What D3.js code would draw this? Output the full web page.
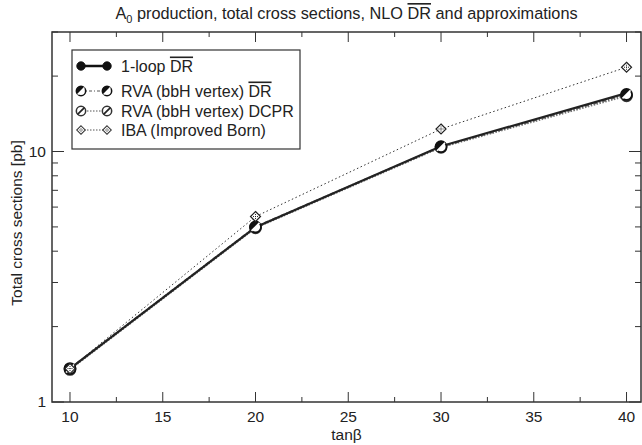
<!DOCTYPE html>
<html>
<head>
<meta charset="utf-8">
<script src="https://cdn.jsdelivr.net/npm/d3@7"></script>
<style>
  body { margin: 0; background: #fff; }
  svg { display: block; font-family: "Liberation Sans", Arial, sans-serif; }
</style>
</head>
<body>
<svg id="chart" width="642" height="445"></svg>
<script>
// data
var tanBeta = [10, 20, 30, 40];
var loop1 = [1.36, 4.99, 10.5, 17.1];
var rvaDR = [1.36, 5.0, 10.45, 16.9];
var rvaDCPR = [1.35, 4.96, 10.4, 16.7];
var iba = [1.36, 5.5, 12.3, 21.7];
var xTicks = [10, 15, 20, 25, 30, 35, 40];
var yTicks = [1, 10];

var margin = { top: 32, right: 1, bottom: 43, left: 52 };
var width = 642 - margin.left - margin.right;
var height = 445 - margin.top - margin.bottom;
var fs = "15.5px";

var svg = d3.select("#chart");
var g = svg.append("g")
    .attr("transform", "translate(" + margin.left + "," + margin.top + ")");

var x = d3.scaleLinear().domain([9.03, 40.78]).range([0, width]);
var y = d3.scaleLog().domain([1, 30]).range([height, 0]);

var axisColor = "#333";

// frame
g.append("rect")
    .attr("width", width)
    .attr("height", height)
    .attr("fill", "none")
    .attr("stroke", axisColor)
    .attr("stroke-width", 1.5);

// x ticks (bottom + top)
var xMinor = d3.range(12.5, 40, 5);
function xTickMarks(vals, len) {
    vals.forEach(function(v) {
        g.append("line").attr("x1", x(v)).attr("x2", x(v))
            .attr("y1", height).attr("y2", height - len)
            .attr("stroke", axisColor).attr("stroke-width", 1);
        g.append("line").attr("x1", x(v)).attr("x2", x(v))
            .attr("y1", 0).attr("y2", len)
            .attr("stroke", axisColor).attr("stroke-width", 1);
    });
}
xTickMarks(xTicks, 10);
xTickMarks(xMinor, 5);

g.selectAll(".xlab")
    .data(xTicks)
    .enter().append("text")
    .attr("x", function(d) { return x(d); })
    .attr("y", height + 20)
    .attr("text-anchor", "middle")
    .attr("font-size", fs)
    .attr("fill", "#222")
    .text(function(d) { return d; });

// y ticks (left + right)
var yMinor = [2, 3, 4, 5, 6, 7, 8, 9, 20, 30];
function yTickMarks(vals, len) {
    vals.forEach(function(v) {
        g.append("line").attr("x1", 0).attr("x2", len)
            .attr("y1", y(v)).attr("y2", y(v))
            .attr("stroke", axisColor).attr("stroke-width", 1);
        g.append("line").attr("x1", width).attr("x2", width - len)
            .attr("y1", y(v)).attr("y2", y(v))
            .attr("stroke", axisColor).attr("stroke-width", 1);
    });
}
yTickMarks(yTicks, 12);
yTickMarks(yMinor, 6);

g.selectAll(".ylab")
    .data(yTicks)
    .enter().append("text")
    .attr("x", -6)
    .attr("y", function(d) { return y(d) + 5; })
    .attr("text-anchor", "end")
    .attr("font-size", fs)
    .attr("fill", "#222")
    .text(function(d) { return d; });

// axis titles
svg.append("text")
    .attr("x", margin.left + width / 2)
    .attr("y", 440)
    .attr("text-anchor", "middle")
    .attr("font-size", fs)
    .attr("fill", "#222")
    .text("tanβ");

svg.append("text")
    .attr("transform", "translate(22," + (margin.top + height / 2 + 6) + ") rotate(-90)")
    .attr("text-anchor", "middle")
    .attr("font-size", fs)
    .attr("fill", "#222")
    .text("Total cross sections [pb]");

// title with overlined DR
var title = svg.append("text")
    .attr("x", margin.left + width / 2)
    .attr("y", 19)
    .attr("text-anchor", "middle")
    .attr("font-size", "16.3px")
    .attr("fill", "#222");
title.append("tspan").text("A");
title.append("tspan").attr("font-size", "11px").attr("dy", 4).text("0");
title.append("tspan").attr("dy", -4).text(" production, total cross sections, NLO ");
title.append("tspan").attr("text-decoration", "overline").text("DR");
title.append("tspan").text(" and approximations");

// marker drawers
function markerLoop(sel) {
    sel.append("circle").attr("r", 5).attr("fill", "#111").attr("stroke", "#111");
}
function markerRvaDR(sel) {
    sel.append("circle").attr("r", 5.5).attr("fill", "#fff").attr("stroke", "#111").attr("stroke-width", 1.8);
    sel.append("path").attr("d", "M-4,4A5.6,5.6 0 0 1 4,-4Z").attr("fill", "#111");
    sel.append("line").attr("x1", -4).attr("y1", 4).attr("x2", 4).attr("y2", -4)
        .attr("stroke", "#fff").attr("stroke-width", 1.6);
}
function markerRvaDCPR(sel) {
    sel.append("circle").attr("r", 5.5).attr("fill", "#fff").attr("stroke", "#333").attr("stroke-width", 1.8);
    sel.append("line").attr("x1", -4).attr("y1", 4).attr("x2", 4).attr("y2", -4)
        .attr("stroke", "#222").attr("stroke-width", 2);
}
function markerIba(sel) {
    sel.append("path").attr("d", "M0,-5L5,0L0,5L-5,0Z")
        .attr("fill", "#fff").attr("stroke", "#222").attr("stroke-width", 1.2);
    sel.append("path").attr("d", "M-2.5,0H2.5M0,-2.5V2.5")
        .attr("stroke", "#222").attr("stroke-width", 1).attr("stroke-dasharray", "1,1");
}

var series = [
    { name: "iba", values: iba, color: "#333", width: 1, dash: "1.5,2.5", marker: markerIba },
    { name: "dcpr", values: rvaDCPR, color: "#777", width: 2, dash: "1.5,1.5", marker: markerRvaDCPR },
    { name: "rvadr", values: rvaDR, color: "#666", width: 2, dash: "4,2,1,2", marker: markerRvaDR },
    { name: "loop", values: loop1, color: "#222", width: 2.2, dash: null, marker: markerLoop }
];

var line = d3.line()
    .x(function(d) { return x(d[0]); })
    .y(function(d) { return y(d[1]); });

series.forEach(function(s) {
    var pts = tanBeta.map(function(t, i) { return [t, s.values[i]]; });
    g.append("path")
        .datum(pts)
        .attr("d", line)
        .attr("fill", "none")
        .attr("stroke", s.color)
        .attr("stroke-width", s.width)
        .attr("stroke-dasharray", s.dash);
});

// markers: the solid 1-loop curve shows no separate dots in the plot
[series[1], series[2], series[0]].forEach(function(s) {
    tanBeta.forEach(function(t, i) {
        var m = g.append("g")
            .attr("transform", "translate(" + x(t) + "," + y(s.values[i]) + ")");
        s.marker(m);
    });
});

// legend
var legend = svg.append("g").attr("transform", "translate(72,50)");
legend.append("rect")
    .attr("width", 228)
    .attr("height", 99)
    .attr("fill", "#fff")
    .attr("stroke", axisColor)
    .attr("stroke-width", 1.2);

var legendRows = [
    { s: series[3], label: ["1-loop ", "DR"] },
    { s: series[2], label: ["RVA (bbH vertex) ", "DR"] },
    { s: series[1], label: ["RVA (bbH vertex) DCPR", ""] },
    { s: series[0], label: ["IBA (Improved Born)", ""] }
];
var rowY = [16, 41, 61, 80];

legendRows.forEach(function(r, i) {
    var row = legend.append("g").attr("transform", "translate(0," + rowY[i] + ")");
    row.append("line")
        .attr("x1", 9).attr("x2", 35)
        .attr("stroke", r.s.name == "loop" ? "#111" : "#555")
        .attr("stroke-width", r.s.name == "loop" ? 2.5 : 1)
        .attr("stroke-dasharray", r.s.name == "loop" ? null : (r.s.name == "rvadr" ? "3,2,1,2" : "1.5,1.5"));
    [9, 35].forEach(function(mx) {
        var mg = row.append("g").attr("transform", "translate(" + mx + ",0) scale(0.85)");
        r.s.marker(mg);
    });
    var t = row.append("text")
        .attr("x", 49)
        .attr("y", 5.5)
        .attr("font-size", "16px")
        .attr("fill", "#222");
    t.append("tspan").text(r.label[0]);
    if (r.label[1]) t.append("tspan").attr("text-decoration", "overline").text(r.label[1]);
});
</script>
</body>
</html>
